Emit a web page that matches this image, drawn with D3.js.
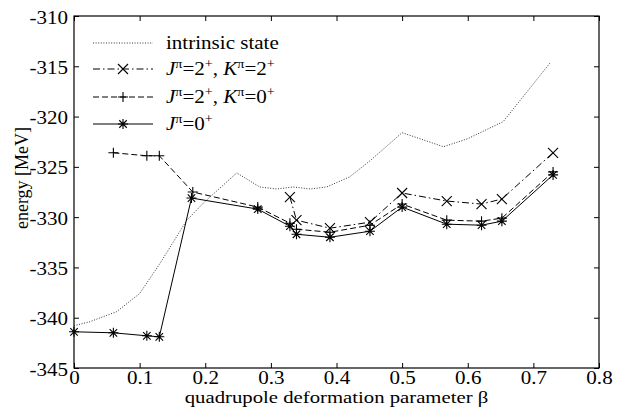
<!DOCTYPE html>
<html><head><meta charset="utf-8">
<script src="https://cdn.jsdelivr.net/npm/d3@7"></script>
<style>body{margin:0;background:#fff}svg text{font-family:"Liberation Serif","DejaVu Serif",serif;}</style>
</head><body><svg id="c" width="624" height="409"></svg>
<script>
const xTicks = [0,0.1,0.2,0.3,0.4,0.5,0.6,0.7,0.8];
const yTicks = [-345,-340,-335,-330,-325,-320,-315,-310];

const betaIntrinsic = [0,0.024,0.065,0.1,0.131,0.172,0.197,0.248,0.283,0.309,0.334,0.36,0.385,0.42,0.451,0.5,0.563,0.6,0.654,0.725];
const eIntrinsic = [-340.8,-340.4,-339.4,-337.6,-334.6,-330.3,-328.6,-325.6,-327.0,-327.2,-327.0,-327.2,-327.0,-326.0,-324.4,-321.6,-323.0,-322.2,-320.5,-314.7];

const betaK2 = [0.329,0.339,0.39,0.451,0.5,0.568,0.621,0.652,0.73];
const eK2 = [-328.0,-330.3,-331.1,-330.5,-327.6,-328.4,-328.7,-328.2,-323.6];

const betaK0 = [0.06,0.111,0.13,0.181,0.28,0.329,0.339,0.39,0.451,0.5,0.568,0.621,0.652,0.73];
const eK0 = [-323.6,-323.9,-323.9,-327.5,-329.0,-330.6,-331.2,-331.5,-330.8,-328.7,-330.3,-330.4,-330.1,-325.5];

const betaJ0 = [0,0.06,0.111,0.13,0.179,0.28,0.329,0.339,0.39,0.451,0.5,0.568,0.621,0.652,0.73];
const eJ0 = [-341.4,-341.5,-341.8,-341.9,-328.1,-329.2,-330.9,-331.7,-332.0,-331.4,-329.0,-330.7,-330.8,-330.4,-325.8];

const svg = d3.select("#c");
const L=74, R=599, T=16, B=368;
const x = d3.scaleLinear().domain([0,0.8]).range([L,R]);
const y = d3.scaleLinear().domain([-345,-310]).range([B,T]);
const SX = 1.17, FS = 18;
const fmt = d => String(d);

// frame
svg.append("rect").attr("x",L).attr("y",T).attr("width",R-L).attr("height",B-T)
  .attr("fill","none").attr("stroke","#000").attr("stroke-width",1.2);

// axes with inward ticks
const gxB = svg.append("g").attr("transform",`translate(0,${B})`).call(d3.axisBottom(x).tickValues(xTicks).tickSize(-5).tickFormat(fmt));
const gxT = svg.append("g").attr("transform",`translate(0,${T})`).call(d3.axisTop(x).tickValues(xTicks).tickSize(-5).tickFormat(""));
const gyL = svg.append("g").attr("transform",`translate(${L},0)`).call(d3.axisLeft(y).tickValues(yTicks).tickSize(-5).tickFormat(fmt));
const gyR = svg.append("g").attr("transform",`translate(${R},0)`).call(d3.axisRight(y).tickValues(yTicks).tickSize(-5).tickFormat(""));
[gxB,gxT,gyL,gyR].forEach(g=>{g.select(".domain").remove();g.attr("font-family","Liberation Serif");g.selectAll(".tick line").attr("stroke","#000");});
gxB.selectAll(".tick text").each(function(d){
  const t=d3.select(this);
  t.attr("y",null).attr("dy",null).attr("font-size",FS).attr("fill","#000").attr("text-anchor","middle")
   .attr("transform",`translate(0,16) scale(${SX},1)`);
});
gyL.selectAll(".tick text").each(function(d){
  const t=d3.select(this);
  t.attr("x",null).attr("dy",null).attr("font-size",FS).attr("fill","#000").attr("text-anchor","end")
   .attr("transform",`translate(-6,7) scale(${SX},1)`);
});

// axis labels
svg.append("text").attr("font-size",17).attr("text-anchor","middle")
  .attr("transform",`translate(${(L+R)/2},403) scale(1.22,1)`).text("quadrupole deformation parameter β");
svg.append("text").attr("font-size",FS).attr("text-anchor","middle")
  .attr("transform",`translate(28,178) rotate(-90)`).text("energy [MeV]");

const line = d3.line().x(d=>x(d[0])).y(d=>y(d[1]));
const zip=(a,b)=>a.map((v,i)=>[v,b[i]]);

function marker(g, type, cx, cy){
  const r=5;
  let p="";
  if(type==="x") p=`M${cx-r},${cy-r}L${cx+r},${cy+r}M${cx-r},${cy+r}L${cx+r},${cy-r}`;
  else if(type==="+") p=`M${cx-r},${cy}L${cx+r},${cy}M${cx},${cy-r}L${cx},${cy+r}`;
  else if(type==="*"){const a=r*0.75;p=`M${cx-r},${cy}L${cx+r},${cy}M${cx},${cy-r}L${cx},${cy+r}M${cx-a},${cy-a}L${cx+a},${cy+a}M${cx-a},${cy+a}L${cx+a},${cy-a}`;}
  g.append("path").attr("d",p).attr("stroke","#000").attr("stroke-width",1.1).attr("fill","none");
}

const series = [
  {b:betaIntrinsic,e:eIntrinsic,dash:"1,1.6",m:null,w:1,c:"#333"},
  {b:betaK2,e:eK2,dash:"7,3,1.5,3",m:"x",w:1,c:"#000"},
  {b:betaK0,e:eK0,dash:"6,3",m:"+",w:1,c:"#000"},
  {b:betaJ0,e:eJ0,dash:null,m:"*",w:1,c:"#000"}
];
const plot = svg.append("g");
series.forEach(s=>{
  const d=zip(s.b,s.e);
  plot.append("path").attr("d",line(d)).attr("fill","none").attr("stroke",s.c)
    .attr("stroke-width",s.w).attr("stroke-dasharray",s.dash);
  if(s.m) d.forEach(p=>marker(plot,s.m,x(p[0]),y(p[1])));
});

// legend
const legRows=[43,69,97,124];
const lg = svg.append("g");
series.forEach((s,i)=>{
  const yy=legRows[i];
  lg.append("path").attr("d",`M93,${yy}L153,${yy}`).attr("stroke",s.c).attr("stroke-width",s.w)
    .attr("stroke-dasharray",s.dash).attr("fill","none");
  if(s.m) marker(lg,s.m,123,yy);
});
function legText(yy, parts){
  const t=lg.append("text").attr("font-size",FS).attr("transform",`translate(166,${yy+6}) scale(${SX},1)`);
  parts.forEach(p=>{
    const ts=t.append("tspan").text(p.t);
    if(p.i) ts.attr("font-style","italic");
    if(p.sup){ts.attr("font-size",12).attr("dy",-7);}
    if(p.down){ts.attr("dy",7);}
  });
}
legText(legRows[0],[{t:"intrinsic state"}]);
legText(legRows[1],[{t:"J",i:1},{t:"π",sup:1},{t:"=2",down:1},{t:"+",sup:1},{t:", ",down:1},{t:"K",i:1},{t:"π",sup:1},{t:"=2",down:1},{t:"+",sup:1}]);
legText(legRows[2],[{t:"J",i:1},{t:"π",sup:1},{t:"=2",down:1},{t:"+",sup:1},{t:", ",down:1},{t:"K",i:1},{t:"π",sup:1},{t:"=0",down:1},{t:"+",sup:1}]);
legText(legRows[3],[{t:"J",i:1},{t:"π",sup:1},{t:"=0",down:1},{t:"+",sup:1}]);
</script></body></html>
